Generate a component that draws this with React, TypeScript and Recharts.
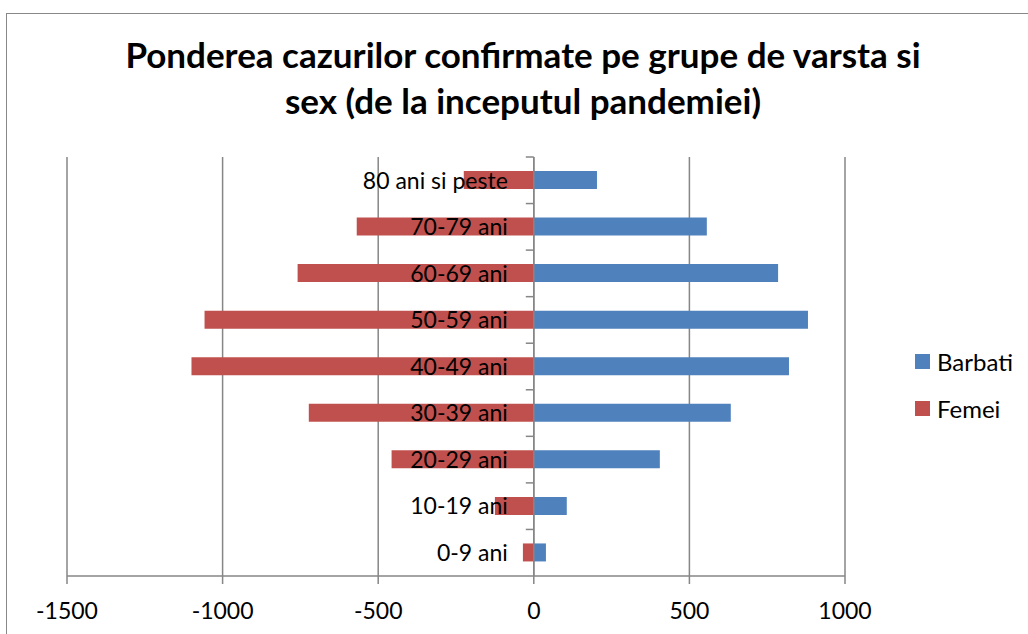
import React from 'react';
import {
  BarChart,
  Bar,
  XAxis,
  YAxis,
  CartesianGrid,
  ReferenceLine,
} from 'recharts';

// categorii (de jos in sus)
const grupe = ['0-9 ani', '10-19 ani', '20-29 ani', '30-39 ani', '40-49 ani', '50-59 ani', '60-69 ani', '70-79 ani', '80 ani si peste'];
const barbati = [39, 106, 405, 633, 820, 881, 785, 556, 203];
const femei = [-35, -125, -457, -723, -1100, -1058, -759, -569, -225];
const xTicks = [-1500, -1000, -500, 0, 500, 1000];

const FONT = 'Lato, "Open Sans", sans-serif';
const BLUE = '#4F81BD';
const RED = '#C0504D';
const GRID = '#868686';

// zona de desenare
const W = 1028;
const H = 634;
const PLOT_LEFT = 67;
const PLOT_RIGHT = 845;
const PLOT_TOP = 157;
const PLOT_BOTTOM = 576;
const X_AXIS_H = 50;
const ZERO_X = PLOT_LEFT + (PLOT_RIGHT - PLOT_LEFT) * (1500 / 2500);
const BAND = (PLOT_BOTTOM - PLOT_TOP) / grupe.length;

const data = grupe.map((g, i) => ({ grupa: g, Barbati: barbati[i], Femei: femei[i] }));

const CategoryTick = (props: any) => {
  const { y, payload } = props;
  return (
    <g>
      <line x1={ZERO_X - 8} x2={ZERO_X} y1={y - BAND / 2} y2={y - BAND / 2} stroke={GRID} strokeWidth={1.5} />
      <text x={ZERO_X - 26} y={y} dy="0.36em" textAnchor="end" fontSize={23} fontFamily={FONT} fill="#000">
        {payload.value}
      </text>
    </g>
  );
};

const legendItems = [
  { name: 'Barbati', color: BLUE },
  { name: 'Femei', color: RED },
];

export default function App() {
  return (
    <div style={{ position: 'absolute', left: 0, top: 0, width: W, height: H, overflow: 'hidden', background: '#fff' }}>
      <div style={{ position: 'absolute', left: 6, top: 13, width: 1040, height: 640, border: '1.5px solid #888', boxSizing: 'border-box' }} />
      <div
        style={{
          position: 'absolute',
          left: 0,
          top: 31,
          width: 1046,
          textAlign: 'center',
          fontFamily: FONT,
          fontWeight: 'bold',
          fontSize: 35,
          lineHeight: '46px',
          color: '#000',
        }}
      >
        Ponderea cazurilor confirmate pe grupe de varsta si
        <br />
        sex (de la inceputul pandemiei)
      </div>
      <div style={{ position: 'absolute', left: 0, top: 0 }}>
        <BarChart
          width={W}
          height={H}
          data={data}
          layout="vertical"
          stackOffset="sign"
          barSize={18}
          margin={{ top: PLOT_TOP, right: W - PLOT_RIGHT, bottom: H - PLOT_BOTTOM - X_AXIS_H, left: PLOT_LEFT - 1 }}
        >
          <CartesianGrid horizontal={false} stroke={GRID} strokeWidth={1.5} />
          <XAxis
            type="number"
            domain={[-1500, 1000]}
            ticks={xTicks}
            height={X_AXIS_H}
            tickSize={8}
            tickMargin={19}
            axisLine={{ stroke: GRID, strokeWidth: 1.5 }}
            tickLine={{ stroke: GRID, strokeWidth: 1.5 }}
            tick={{ fontSize: 23, fontFamily: FONT, fill: '#000' }}
          />
          <YAxis
            type="category"
            dataKey="grupa"
            reversed
            width={1}
            axisLine={false}
            tickLine={false}
            tick={(p: any) => <CategoryTick {...p} />}
            interval={0}
          />
          <Bar dataKey="Barbati" stackId="a" fill={BLUE} isAnimationActive={false} />
          <Bar dataKey="Femei" stackId="a" fill={RED} isAnimationActive={false} />
          <ReferenceLine x={0} stroke={GRID} strokeWidth={1.5} />
        </BarChart>
      </div>
      <div style={{ position: 'absolute', left: 915, top: 338, fontFamily: FONT, fontSize: 24, color: '#000' }}>
        {legendItems.map((it) => (
          <div key={it.name} style={{ display: 'flex', alignItems: 'center', height: 47 }}>
            <span style={{ width: 15, height: 15, background: it.color, display: 'inline-block', marginRight: 7 }} />
            <span>{it.name}</span>
          </div>
        ))}
      </div>
    </div>
  );
}
